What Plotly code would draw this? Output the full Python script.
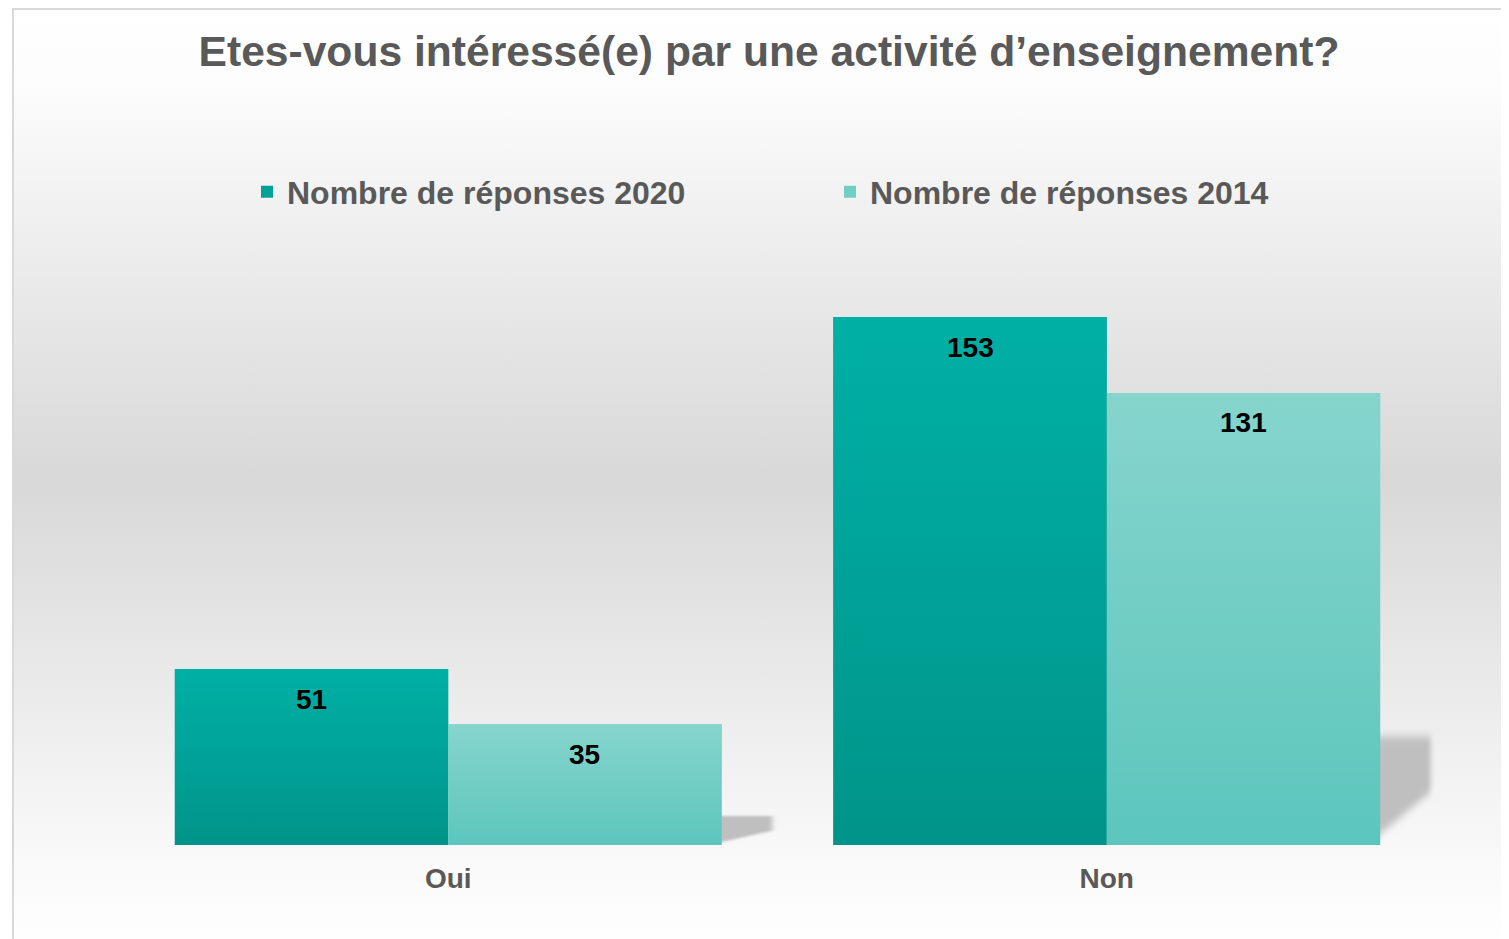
import base64
import plotly.graph_objects as go

# ---------------- data ----------------
categories = ["Oui", "Non"]
series_names = ["Nombre de réponses 2020", "Nombre de réponses 2014"]
values_2020 = [51, 153]
values_2014 = [35, 131]
title_text = "Etes-vous intéressé(e) par une activité d’enseignement?"

# ---------------- styling ----------------
OFF = 8  # page body margin: target pixel p -> figure pixel p - OFF
W, H = 1501, 931
ML, MR, MT, MB = 111, 73, 92, 94
PW, PH = W - ML - MR, H - MT - MB
BAR_W = 0.4153
YMAX = PH * 153 / 528.0
FONT = "Liberation Sans, Arial, sans-serif"
GREY_TXT = "#595959"
top_cols = ["#00B0A5", "#86D5CD"]
bot_cols = ["#00948A", "#5CC6BC"]
mid_cols = ["#00A297", "#71CEC5"]


def px_x(p):
    return (p - OFF - ML) / PW


def px_y(p):
    return (H - MB - (p - OFF)) / PH


def svg_uri(svg):
    return "data:image/svg+xml;base64," + base64.b64encode(svg.encode("utf-8")).decode("ascii")


def grad_svg(stops):
    st = "".join(f'<stop offset="{o}" stop-color="{c}"/>' for o, c in stops)
    return svg_uri(
        '<svg xmlns="http://www.w3.org/2000/svg" width="100" height="100" viewBox="0 0 100 100" '
        'preserveAspectRatio="none"><defs><linearGradient id="g" x1="0" y1="0" x2="0" y2="1">'
        f'{st}</linearGradient></defs><rect x="0" y="0" width="100" height="100" fill="url(#g)"/></svg>'
    )


shadow_svg = svg_uri(
    '<svg xmlns="http://www.w3.org/2000/svg" width="100" height="100" viewBox="0 0 100 100" '
    'preserveAspectRatio="none"><defs><filter id="b" x="-30%" y="-30%" width="160%" height="160%">'
    '<feGaussianBlur stdDeviation="3.5"/></filter></defs>'
    '<polygon points="0,14 88,14 88,58 0,100" fill="#bfbfbf" filter="url(#b)"/></svg>'
)

x_pos = list(range(len(categories)))
series_vals = [values_2020, values_2014]
offsets = [-BAR_W, 0.0]

fig = go.Figure()
for k, (name, vals) in enumerate(zip(series_names, series_vals)):
    fig.add_trace(go.Bar(
        x=x_pos, y=vals, name=name,
        width=BAR_W, offset=offsets[k],
        marker=dict(color=mid_cols[k], line=dict(width=0)),
        legend="legend" if k == 0 else "legend2",
        hoverinfo="x+y+name",
    ))

images = [dict(
    source=grad_svg([(0, "#ffffff"), (0.09, "#fcfcfc"), (0.5, "#d8d8d8"), (0.9, "#f9f9f9"), (1, "#ffffff")]),
    xref="paper", yref="paper", x=px_x(13), y=px_y(5),
    sizex=(W + OFF - 13) / PW, sizey=(H + OFF + 12 - 5) / PH,
    xanchor="left", yanchor="top", sizing="stretch", layer="below",
)]

# shadows behind the right bar of each group
for i, v in zip(x_pos, values_2014):
    images.append(dict(
        source=shadow_svg, xref="x", yref="y",
        x=i + BAR_W - 0.02, y=v * 0.28, sizex=0.11, sizey=v * 0.28,
        xanchor="left", yanchor="top", sizing="stretch", layer="below",
    ))

# gradient fill over each bar
annotations = []
for k, vals in enumerate(series_vals):
    g = grad_svg([(0, top_cols[k]), (1, bot_cols[k])])
    for i, v in zip(x_pos, vals):
        images.append(dict(
            source=g, xref="x", yref="y", x=i + offsets[k], y=v,
            sizex=BAR_W, sizey=v, xanchor="left", yanchor="top",
            sizing="stretch", layer="above",
        ))
        annotations.append(dict(
            x=i + offsets[k] + BAR_W / 2, y=v, xref="x", yref="y",
            text=str(v), showarrow=False, yanchor="middle", yshift=-30,
            font=dict(family=FONT, size=28, color="#000000", weight="bold"),
        ))

shapes = [
    dict(type="line", xref="paper", yref="paper", x0=px_x(13), x1=px_x(W + OFF + 5),
         y0=px_y(OFF + 1), y1=px_y(OFF + 1), line=dict(color="#d9d9d9", width=2)),
    dict(type="line", xref="paper", yref="paper", x0=px_x(13), x1=px_x(13),
         y0=px_y(OFF), y1=px_y(H + OFF + 5), line=dict(color="#d9d9d9", width=2)),
]

legend_font = dict(family=FONT, size=32, color=GREY_TXT, weight="bold")

fig.update_layout(
    width=W, height=H,
    margin=dict(l=ML, r=MR, t=MT, b=MB),
    paper_bgcolor="#ffffff", plot_bgcolor="rgba(0,0,0,0)",
    title=dict(text=title_text, x=px_x(769), xref="paper", xanchor="center",
               y=1 - (51 - OFF) / H, yref="container", yanchor="middle",
               font=dict(family=FONT, size=42.6, color=GREY_TXT, weight="bold")),
    showlegend=True,
    legend=dict(x=px_x(247), y=px_y(192), xanchor="left", yanchor="middle",
                orientation="h", font=legend_font, bgcolor="rgba(0,0,0,0)"),
    legend2=dict(x=px_x(830), y=px_y(192), xanchor="left", yanchor="middle",
                 orientation="h", font=legend_font, bgcolor="rgba(0,0,0,0)"),
    xaxis=dict(range=[-0.5, 1.5], tickvals=x_pos, ticktext=categories,
               showgrid=False, zeroline=False, showline=False,
               ticks="outside", ticklen=8, tickcolor="rgba(0,0,0,0)",
               tickfont=dict(family=FONT, size=28, color=GREY_TXT, weight="bold"),
               fixedrange=True),
    yaxis=dict(range=[0, YMAX], visible=False, fixedrange=True),
    images=images,
    annotations=annotations,
    shapes=shapes,
    font=dict(family=FONT),
)

fig.write_html("out.html")
